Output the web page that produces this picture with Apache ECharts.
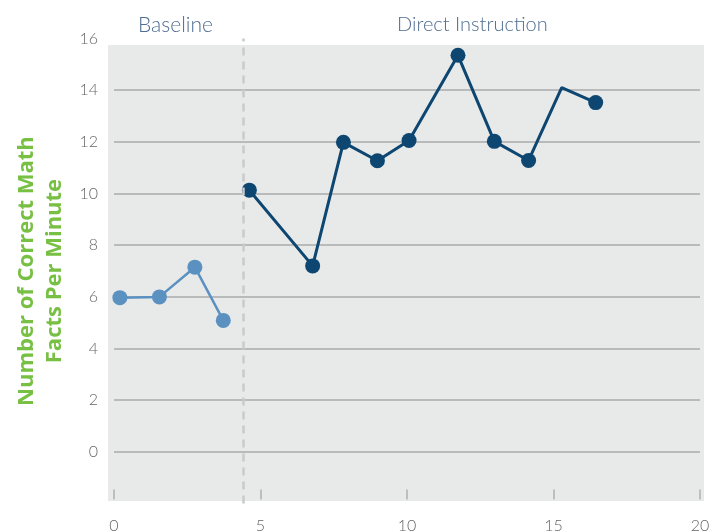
<!DOCTYPE html>
<html><head><meta charset="utf-8">
<script src="https://cdn.jsdelivr.net/npm/echarts@6/dist/echarts.min.js"></script>
<style>html,body{margin:0;padding:0;background:#fff;overflow:hidden}#c{width:709px;height:531px}</style>
</head><body><div id="c"></div>
<script>
// Data
const baselineX = [0.2, 1.55, 2.76, 3.73];
const baselineY = [5.97, 6.0, 7.15, 5.09];
const directX = [4.62, 6.78, 7.83, 8.99, 10.07, 11.74, 12.98, 14.15, 15.28, 16.44];
const directY = [10.13, 7.2, 11.98, 11.27, 12.05, 15.35, 12.02, 11.28, 14.1, 13.52];
const directMarker = [true, true, true, true, true, true, true, true, false, true];
const phaseChangeX = 4.4;
const phaseLabels = ['Baseline', 'Direct Instruction'];
const yTitle = 'Number of Correct Math\nFacts Per Minute';

const chart = echarts.init(document.getElementById('c'));
const baseData = baselineX.map((x, i) => [x, baselineY[i]]);
const dirData = directX.map((x, i) => directMarker[i] ? [x, directY[i]] : {value: [x, directY[i]], symbol: 'none'});

chart.setOption({
  animation: false,
  grid: {left: 114, right: 9, top: 38.5, bottom: 27.4, containLabel: false, outerBoundsMode: 'none'},
  graphic: [
    {type: 'rect', z: -10, shape: {x: 108, y: 45, width: 596, height: 456}, style: {fill: '#e8e9e9'}},
    {type: 'text', left: 138, top: 15, style: {text: phaseLabels[0], font: '300 21px Lato, "Open Sans", sans-serif', fill: '#4f6d92'}},
    {type: 'text', left: 397, top: 15, style: {text: phaseLabels[1], font: '300 20px Lato, "Open Sans", sans-serif', fill: '#4f6d92'}}
  ],
  xAxis: {
    type: 'value', min: 0, max: 20, interval: 5, offset: -4,
    axisLine: {show: false, onZero: false},
    axisTick: {show: true, inside: true, length: 10, lineStyle: {color: '#b0b0b0', width: 1.5}},
    axisLabel: {margin: 18, color: '#666', fontSize: 16, fontFamily: 'Lato', fontWeight: 300},
    splitLine: {show: false}
  },
  yAxis: {
    type: 'value', min: -2, max: 16, interval: 2,
    name: yTitle, nameLocation: 'middle', nameGap: 40, nameRotate: 90,
    nameTextStyle: {color: '#78c043', fontSize: 22, fontWeight: 'bold', fontFamily: '"Open Sans", Lato, sans-serif', lineHeight: 28},
    axisLine: {show: false}, axisTick: {show: false},
    axisLabel: {margin: 16, color: '#666', fontSize: 16, fontFamily: 'Lato', fontWeight: 300,
      formatter: v => v < 0 ? '' : String(v)},
    splitLine: {show: true, showMinLine: false, showMaxLine: false, lineStyle: {color: '#a9aaab', width: 1.5}}
  },
  series: [
    {
      type: 'line', data: baseData, symbol: 'circle', symbolSize: 15,
      lineStyle: {color: '#5b91c0', width: 2.5}, itemStyle: {color: '#5b91c0'},
      markLine: {
        silent: true, symbol: 'none', label: {show: false},
        lineStyle: {color: '#c9caca', type: [8, 6], width: 2.5},
        data: [{xAxis: phaseChangeX}]
      }
    },
    {
      type: 'line', data: dirData, symbol: 'circle', symbolSize: 15,
      lineStyle: {color: '#0d4670', width: 3}, itemStyle: {color: '#0d4670'}
    }
  ]
});
</script></body></html>
